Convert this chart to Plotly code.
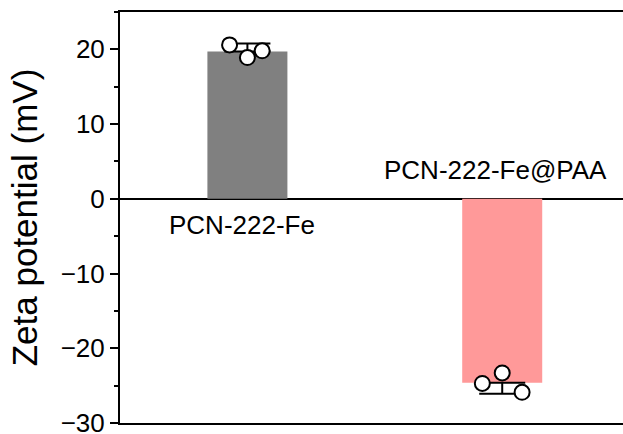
import plotly.graph_objects as go

# ---- data ----
categories = ["PCN-222-Fe", "PCN-222-Fe@PAA"]
positions = [1, 2]
means = [19.7, -24.6]
err_plus = [1.1, 0.0]
err_minus = [0.0, 1.5]
replicates = [[20.6, 18.9, 19.8], [-24.7, -23.3, -25.9]]
jitter = [[-0.07, 0.0, 0.058], [-0.078, 0.0, 0.078]]
bar_colors = ["#808080", "#FF9999"]
y_ticks = [-30, -20, -10, 0, 10, 20]
y_tick_text = ["\u221230", "\u221220", "\u221210", "0", "10", "20"]

FONT = "Liberation Sans, Arial, Helvetica, sans-serif"

fig = go.Figure()
fig.add_trace(go.Bar(
    x=positions, y=means, width=0.314,
    marker=dict(color=bar_colors, line=dict(width=0)),
    error_y=dict(type="data", symmetric=False, array=err_plus, arrayminus=err_minus,
                 color="black", thickness=2, width=23),
    showlegend=False, hoverinfo="skip",
))

px, py = [], []
for p, reps, jit in zip(positions, replicates, jitter):
    for v, j in zip(reps, jit):
        px.append(p + j)
        py.append(v)
fig.add_trace(go.Scatter(
    x=px, y=py, mode="markers",
    marker=dict(symbol="circle", size=15, color="white", line=dict(color="black", width=2)),
    showlegend=False, hoverinfo="skip",
))

# category labels
fig.add_annotation(x=positions[0] - 0.02, y=0, text=categories[0], showarrow=False,
                   yanchor="top", yshift=-9, font=dict(family=FONT, size=26, color="black"))
fig.add_annotation(x=positions[1] - 0.025, y=0, text=categories[1], showarrow=False,
                   yanchor="bottom", yshift=12, font=dict(family=FONT, size=26, color="black"))

fig.update_layout(
    width=623, height=434,
    margin=dict(l=120, r=0, t=12, b=11),
    plot_bgcolor="white", paper_bgcolor="white",
    font=dict(family=FONT, color="black"),
    xaxis=dict(range=[0.5, 2.474], showline=True, mirror=True, linecolor="black",
               linewidth=2, showticklabels=False, ticks="", showgrid=False,
               zeroline=False, automargin=False),
    yaxis=dict(range=[-30, 25], tickvals=y_ticks, ticktext=y_tick_text,
               ticks="outside", ticklen=8, tickwidth=2, tickcolor="black",
               showline=True, linecolor="black", linewidth=2, mirror=False,
               showgrid=False, zeroline=True, zerolinecolor="black", zerolinewidth=2,
               ticklabeloverflow="allow", automargin=False,
               tickfont=dict(family=FONT, size=26, color="black"),
               minor=dict(ticks="outside", ticklen=4, tickwidth=2, tickcolor="black",
                          dtick=5, tick0=0, showgrid=False),
               title=dict(text="Zeta potential (mV)", standoff=12,
                          font=dict(family=FONT, size=35, color="black"))),
)

fig.write_html("out.html")
